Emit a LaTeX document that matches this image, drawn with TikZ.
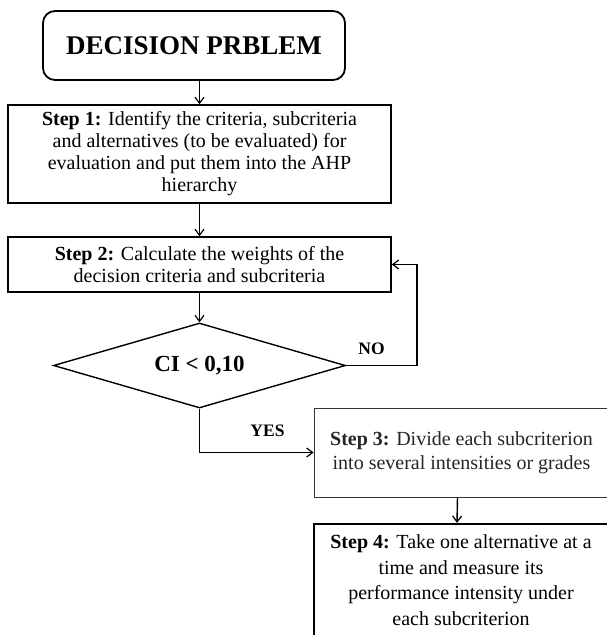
\documentclass[tikz,border=0pt]{standalone}
\usepackage{fontspec}
\setmainfont{Liberation Serif}
\usetikzlibrary{shapes.geometric,arrows.meta}
\begin{document}
\begin{tikzpicture}[x=1pt,y=-1pt,
  box/.style={draw, line width=1.6pt, inner sep=0pt, align=center, font=\fontsize{20}{22}\selectfont},
  arr/.style={line width=1.4pt, -{Straight Barb[length=6pt,width=9pt,line width=1.2pt]}},
  lbl/.style={font=\fontsize{17.5}{20}\selectfont\bfseries}]
\clip (0,0) rectangle (607,635);
\fill[white] (0,0) rectangle (607,635);
\node[draw, line width=1.8pt, rounded corners=12pt, minimum width=302pt, minimum height=69pt, inner sep=0pt, font=\fontsize{27}{30}\selectfont\bfseries] (top) at (194,45.5) {DECISION PRBLEM};
\node[box, minimum width=383pt, minimum height=98pt] (s1) at (199.5,154) {\textbf{Step 1:} Identify the criteria, subcriteria\\ and alternatives (to be evaluated) for\\ evaluation and put them into the AHP\\ hierarchy};
\node[box, minimum width=383pt, minimum height=55pt] (s2) at (199.5,264.5) {\textbf{Step 2:} Calculate the weights of the\\ decision criteria and subcriteria};
\node[diamond, draw, line width=1.4pt, aspect=3.435, minimum width=292pt, minimum height=85pt, inner sep=0pt, font=\fontsize{23}{26}\selectfont\bfseries] (d) at (199.5,365.5) {CI < 0,10};
\node[box, line width=0.8pt, draw=black!80, text=black!85, minimum width=295pt, minimum height=89pt, font=\fontsize{20}{24}\selectfont] (s3) at (461.5,452.5) {\textbf{Step 3:} Divide each subcriterion\\ into several intensities or grades};
\node[box, line width=2.2pt, minimum width=294pt, minimum height=112pt, font=\fontsize{20}{25.5}\selectfont] (s4) at (461,580) {\textbf{Step 4:} Take one alternative at a\\ time and measure its\\ performance intensity under\\ each subcriterion};
\coordinate (lp) at (417,365.5);
\draw[arr] (top.south -| s1.north) -- (s1.north);
\draw[arr] (s1.south) -- (s2.north);
\draw[arr] (s2.south) -- (d.north);
\draw[arr] (d.east) -- (lp) |- (s2.east);
\draw[arr] (d.south) |- (s3.west);
\draw[arr] ([xshift=-4pt]s3.south) -- ([xshift=-4pt]s4.north);
\node[lbl] (no) at (371.5,349) {NO};
\node[lbl] (yes) at (267.5,431) {YES};
\end{tikzpicture}
\end{document}
